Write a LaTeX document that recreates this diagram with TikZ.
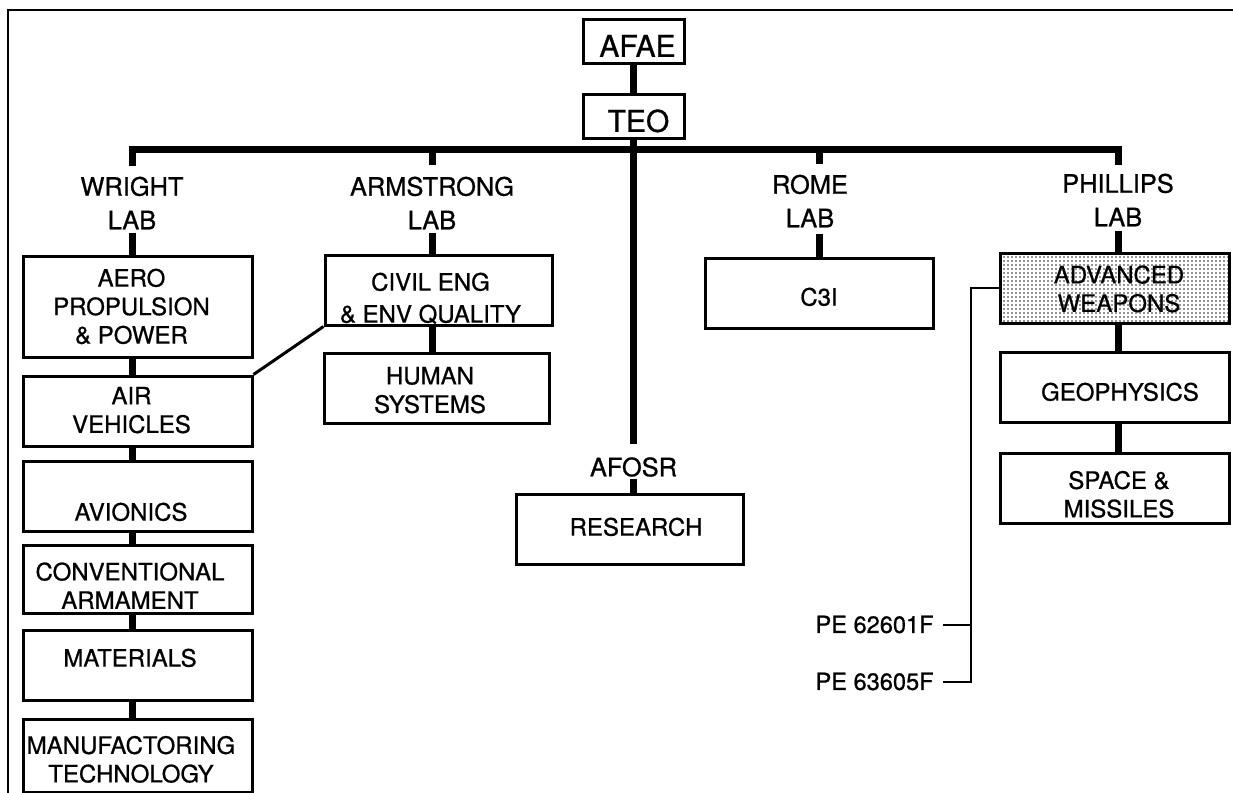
\documentclass[tikz,border=0pt]{standalone}
\usepackage{fontspec}
\setmainfont{TeX Gyre Heros}[FakeBold=0.8]
\usetikzlibrary{calc, patterns.meta}

\newcommand{\boxfont}{\fontsize{12}{14.25}\selectfont}
\newcommand{\labfont}{\fontsize{12.7}{16.8}\selectfont}
% box text, nudged by dx and dy
\newcommand{\btext}[3]{\raisebox{\dimexpr#2-1.47pt\relax}[\height][\depth]{\kern#1\begin{tabular}{@{}c@{}}#3\end{tabular}\kern-#1}}

\begin{document}
\begin{tikzpicture}[x=0.5pt, y=-0.5pt,
    box/.style={draw, line width=1.5pt, inner sep=0pt, minimum width=114.5pt, minimum height=35pt, font=\boxfont},
    head/.style={box, minimum width=50.5pt, minimum height=22pt, font=\fontsize{15}{18}\selectfont},
    lab/.style={inner sep=0pt, align=center, font=\labfont},
    link/.style={line width=3.5pt},
    tie/.style={line width=1.5pt},
    feed/.style={line width=1pt},
    pe/.style={inner sep=0pt, anchor=east, font=\fontsize{11.8}{14}\selectfont}]
\useasboundingbox (0,0) rectangle (1233,793);
% frame
\draw[line width=1.3pt] (1233,10) -- (8,10) -- (8,793);

% head
\node[head] (afae) at (633.5,41) {\btext{2pt}{-2.85pt}{AFAE}};
\node[head] (teo) at (633.5,116.5) {\btext{2.5pt}{-2.6pt}{TEO}};
\coordinate (bus) at (633.5,149);

% labs
\node[lab] (wright) at (132,203) {WRIGHT\\LAB};
\node[lab] (armstrong) at (432,203) {ARMSTRONG\\LAB};
\node[lab] (rome) at (810,201) {ROME\\LAB};
\node[lab] (phillips) at (1118,200) {PHILLIPS\\LAB};
\node[lab] (afosr) at (633.5,467) {AFOSR};

% wright lab
\node[box, minimum height=50.5pt] (aero) at (137.5,306.5) {\btext{-3pt}{0pt}{AERO\\PROPULSION\\\& POWER}};
\node[box] (air) at (137.5,411) {\btext{-3pt}{0.5pt}{AIR\\VEHICLES}};
\node[box] (avion) at (137.5,496.5) {\btext{-3.25pt}{-7.75pt}{AVIONICS}};
\node[box, minimum height=34pt] (conv) at (137.5,579) {\btext{-3.75pt}{-3.5pt}{CONVENTIONAL\\ARMAMENT}};
\node[box] (mater) at (137.5,665.5) {\btext{-3.75pt}{3.75pt}{MATERIALS}};
\node[box, minimum height=36.5pt] (manuf) at (137.5,755.5) {\btext{-3.25pt}{-2pt}{MANUFACTORING\\TECHNOLOGY}};

% armstrong lab
\node[box, minimum width=113.5pt] (civil) at (438.5,290) {\btext{-4pt}{-4pt}{CIVIL ENG\\[1.75pt]\& ENV QUALITY}};
\node[box, minimum width=112.5pt] (human) at (436.5,388) {\btext{-3.25pt}{-1pt}{HUMAN\\SYSTEMS}};

% rome lab and afosr
\node[box, minimum width=114pt] (c3i) at (819,293.5) {\btext{0pt}{-1.75pt}{C3I}};
\node[box, minimum width=113.5pt] (research) at (629.5,529) {\btext{3.25pt}{1pt}{RESEARCH}};

% phillips lab
\node[box, pattern={Dots[distance=2pt, radius=0.4pt]}, pattern color=black!85] (adv) at (1114.5,288) {\btext{2.25pt}{-0.5pt}{ADVANCED\\WEAPONS}};
\node[box] (geo) at (1114.5,387) {\btext{2.75pt}{-2.5pt}{GEOPHYSICS}};
\node[box] (space) at (1114.5,488) {\btext{2.25pt}{-3.25pt}{SPACE \&\\MISSILES}};

% program elements
\node[pe] (pe1) at (934,624.5) {PE 62601F};
\node[pe] (pe2) at (934,681.5) {PE 63605F};
\coordinate (spine) at (971,0);

% tree
\draw[link] (afae) -- (teo);
\draw[link] (teo) -- ($(afosr.north)+(0,-13)$);
\draw[link] ($(afosr.south)+(0,2)$) -- (research.north -| afosr);
\draw[link] ($(wright.north)+(0,-10)$) |- (bus) -| ($(phillips.north)+(0,-8)$);
\draw[link] (bus -| armstrong) -- ($(armstrong.north)+(0,-11)$);
\draw[link] (bus -| c3i) -- ($(rome.north -| c3i)+(0,-10)$);
\draw[link] ($(wright.south)+(0,3)$) -- (aero.north -| wright);
\draw[link] ($(armstrong.south)+(0,3)$) -- (civil.north -| armstrong);
\draw[link] ($(rome.south -| c3i)+(0,6)$) -- (c3i.north);
\draw[link] ($(phillips.south)+(0,4)$) -- (adv.north -| phillips);
\draw[link] (aero.south -| wright) -- (air.north -| wright);
\draw[link] (air.south -| wright) -- (avion.north -| wright);
\draw[link] (avion.south -| wright) -- (conv.north -| wright);
\draw[link] (conv.south -| wright) -- (mater.north -| wright);
\draw[link] (mater.south -| wright) -- (manuf.north -| wright);
\draw[link] (civil.south -| armstrong) -- (human.north -| armstrong);
\draw[link] (adv.south -| phillips) -- (geo.north -| phillips);
\draw[link] (geo.south -| phillips) -- (space.north -| phillips);
\draw[tie] (air.north east) -- (civil.south west);
\draw[feed] (adv.west) -| (spine |- pe2) -- ($(pe2.east)+(9,0)$);
\draw[feed] (spine |- pe1) -- ($(pe1.east)+(9,0)$);
\end{tikzpicture}
\end{document}
